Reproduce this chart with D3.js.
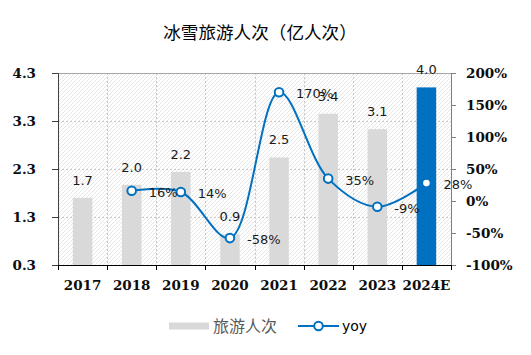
<!DOCTYPE html>
<html><head><meta charset="utf-8">
<script src="https://cdn.jsdelivr.net/npm/d3@7"></script>
<style>body{margin:0;background:#fff}svg{display:block}</style>
</head><body>
<script>
const categories = ["2017","2018","2019","2020","2021","2022","2023","2024E"];
const visitors = [1.7, 2.0, 2.2, 0.9, 2.5, 3.4, 3.1, 4.0];
const visitorBars = [1.7, 1.97, 2.24, 0.94, 2.54, 3.45, 3.13, 4.0];
const yoyCats = ["2018","2019","2020","2021","2022","2023","2024E"];
const yoy = [16, 14, -58, 170, 35, -9, 28];
const leftTicks = [0.3, 1.3, 2.3, 3.3, 4.3];
const rightTicks = [-100, -50, 0, 50, 100, 150, 200];
const title = "冰雪旅游人次（亿人次）";

const W = 531, H = 355;
const svg = d3.select("body").append("svg").attr("width", W).attr("height", H);
const x = d3.scaleBand().domain(categories).range([58, 451]).paddingInner(0).paddingOuter(0);
const yL = d3.scaleLinear().domain([0.3, 4.3]).range([265, 73]);
const yR = d3.scaleLinear().domain([-100, 200]).range([265, 73]);

const defs = svg.append("defs");
const pat = defs.append("pattern").attr("id","hatch").attr("patternUnits","userSpaceOnUse")
  .attr("width",4).attr("height",4);
pat.append("rect").attr("width",4).attr("height",4).attr("fill","#fff");
pat.append("path").attr("d","M-1,1 l2,-2 M0,4 l4,-4 M3,5 l2,-2").attr("stroke","#e6e6e6").attr("stroke-width",1);

svg.append("rect").attr("x",58).attr("y",73).attr("width",393).attr("height",192).attr("fill","url(#hatch)");

// gridlines
svg.append("g").selectAll("line").data([1.3,2.3,3.3]).join("line")
  .attr("x1",58).attr("x2",451).attr("y1",d=>yL(d)+0.5).attr("y2",d=>yL(d)+0.5)
  .attr("stroke","#c8c8c8").attr("stroke-dasharray","2,2");
svg.append("g").selectAll("line").data(categories.slice(1)).join("line")
  .attr("x1",d=>Math.round(x(d))+0.5).attr("x2",d=>Math.round(x(d))+0.5).attr("y1",73).attr("y2",265)
  .attr("stroke","#c8c8c8").attr("stroke-dasharray","2,2");
svg.append("line").attr("x1",58).attr("x2",451).attr("y1",73.5).attr("y2",73.5).attr("stroke","#a6a6a6");

// bars
const bw = 19.5;
svg.append("g").selectAll("rect").data(visitorBars).join("rect")
  .attr("x",(d,i)=>x(categories[i])+x.bandwidth()/2-bw/2)
  .attr("y",d=>yL(d)).attr("width",bw).attr("height",d=>265-yL(d))
  .attr("fill",(d,i)=>i===categories.length-1?"#0070c0":"#d9d9d9");

// axes
const fAxis = "DejaVu Serif";
const axL = svg.append("g").attr("transform","translate(58,0)")
  .call(d3.axisLeft(yL).tickValues(leftTicks).tickFormat(d3.format(".1f")).tickSize(6).tickPadding(16));
const axR = svg.append("g").attr("transform","translate(451,0)")
  .call(d3.axisRight(yR).tickValues(rightTicks).tickFormat(d=>d+"%").tickSize(5).tickPadding(10));
const axB = svg.append("g").attr("transform","translate(0,265)")
  .call(d3.axisBottom(x).tickSize(0).tickPadding(15));
[axL, axR, axB].forEach(a=>{
  a.selectAll("text").attr("font-family",fAxis).attr("font-weight","bold").attr("font-size",13.5).attr("fill","#0d0d0d");
});
axL.select(".domain").attr("stroke","#404040");
axL.selectAll(".tick line").attr("stroke","#404040");
axR.select(".domain").attr("stroke","#808080");
axR.selectAll(".tick line").attr("stroke","#808080");
axB.select(".domain").attr("stroke","#000").attr("stroke-width",1.2);
svg.append("g").selectAll("line").data(categories.map(c=>x(c)).concat([451])).join("line")
  .attr("x1",d=>Math.round(d)+0.5).attr("x2",d=>Math.round(d)+0.5).attr("y1",265).attr("y2",270)
  .attr("stroke","#000");

// bar labels
svg.append("g").selectAll("text").data(visitors).join("text")
  .attr("x",(d,i)=>x(categories[i])+x.bandwidth()/2)
  .attr("y",(d,i)=>yL(visitorBars[i])-13)
  .attr("text-anchor","middle").attr("font-family","DejaVu Sans").attr("font-size",13)
  .attr("fill","#1a1a1a").text(d=>d.toFixed(1));

// line
const cx = c=>x(c)+x.bandwidth()/2;
const line = d3.line().x((d,i)=>cx(yoyCats[i])).y(d=>yR(d)).curve(d3.curveCatmullRom.alpha(0.5));
svg.append("path").datum(yoy).attr("d",line).attr("fill","none").attr("stroke","#0070c0").attr("stroke-width",2);
svg.append("g").selectAll("circle").data(yoy).join("circle")
  .attr("cx",(d,i)=>cx(yoyCats[i])).attr("cy",d=>yR(d)).attr("r",4.3)
  .attr("fill","#fff").attr("stroke","#0070c0").attr("stroke-width",2);
svg.append("g").selectAll("text").data(yoy).join("text")
  .attr("x",(d,i)=>cx(yoyCats[i])+17).attr("y",d=>yR(d)+6)
  .attr("font-family","DejaVu Sans").attr("font-size",13).attr("fill","#1a1a1a").text(d=>d+"%");

// title
svg.append("text").attr("x",260).attr("y",39).attr("text-anchor","middle")
  .attr("font-family","Noto Sans CJK SC").attr("font-size",17.6).attr("fill","#000").text(title);

// legend
const lg = svg.append("g");
lg.append("rect").attr("x",169).attr("y",322.5).attr("width",40).attr("height",7).attr("fill","#d9d9d9");
lg.append("text").attr("x",213).attr("y",332).attr("font-family","Noto Sans CJK SC").attr("font-size",16)
  .attr("fill","#595959").text("旅游人次");
lg.append("line").attr("x1",298).attr("x2",339).attr("y1",326).attr("y2",326).attr("stroke","#0070c0").attr("stroke-width",2);
lg.append("circle").attr("cx",318.5).attr("cy",326).attr("r",4.3).attr("fill","#fff").attr("stroke","#0070c0").attr("stroke-width",2);
lg.append("text").attr("x",342).attr("y",331).attr("font-family","DejaVu Sans").attr("font-size",14)
  .attr("fill","#000").text("yoy");
</script>
</body></html>
